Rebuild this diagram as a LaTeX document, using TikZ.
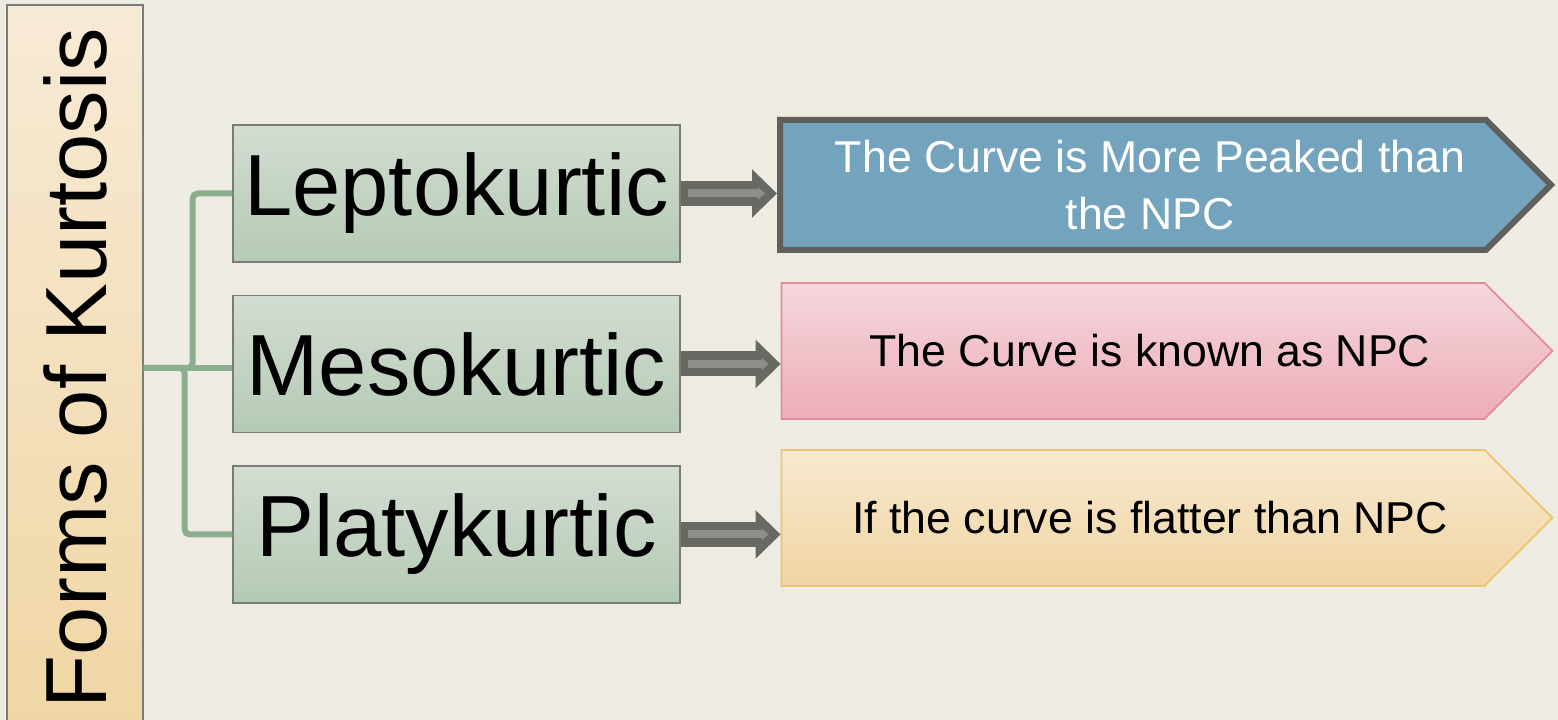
\documentclass[tikz,border=0pt]{standalone}
\usepackage{fontspec}
\setmainfont{Liberation Sans}
\usetikzlibrary{arrows.meta,positioning,shapes.symbols}

\definecolor{bgcol}{HTML}{EEEBE3}
\definecolor{roottop}{HTML}{F7EAD5}
\definecolor{rootbot}{HTML}{F0D6A4}
\definecolor{midtop}{HTML}{D3DDD3}
\definecolor{midbot}{HTML}{B4CAB4}
\definecolor{boxline}{HTML}{7A7A76}
\definecolor{branchgreen}{HTML}{8BAE8E}
\definecolor{arrowdark}{HTML}{686963}
\definecolor{arrowlite}{HTML}{8E8E88}
\definecolor{lepfill}{HTML}{74A3BE}
\definecolor{lepline}{HTML}{5F605B}
\definecolor{mestop}{HTML}{F5D7DD}
\definecolor{mesbot}{HTML}{EDADB7}
\definecolor{mesline}{HTML}{E28B9A}
\definecolor{plattop}{HTML}{F7E9D0}
\definecolor{platbot}{HTML}{F1D5A2}
\definecolor{platline}{HTML}{EBC56F}

% pushes the text of a leaf a bit to the right of its body
\newcommand{\leafpad}{\hspace*{0.34cm}}

\tikzset{
  formbox/.style={draw=boxline, line width=0.4pt, top color=midtop, bottom color=midbot,
    minimum width=4.47cm, minimum height=1.37cm, inner sep=0pt,
    font=\fontsize{24.7}{29}\selectfont},
  leaf/.style={signal, signal to=east, signal pointer angle=90,
    minimum width=7.71cm, minimum height=1.36cm, inner sep=0pt, align=center,
    font=\fontsize{12.7}{16.2}\selectfont},
  branch/.style={draw=branchgreen, line width=0.06cm, rounded corners=0.05cm},
  fatarrow/.style={draw=arrowdark, line width=0.25cm, -{Triangle[width=0.47cm,length=0.25cm]}},
  fatarrowin/.style={draw=arrowlite, line width=0.08cm, shorten <=0.07cm, shorten >=0.12cm,
    -{Triangle[width=0.12cm,length=0.07cm]}},
}

\begin{document}
\begin{tikzpicture}
  \useasboundingbox (0,0) rectangle (15.58,7.2);
  \fill[bgcol] (0,0) rectangle (15.58,7.2);
  \clip (0,0) rectangle (15.58,7.2);

  % left title bar
  \node (root) [draw=boxline, line width=0.4pt, top color=roottop, bottom color=rootbot,
    minimum width=1.36cm, minimum height=7.26cm, inner sep=0pt,
    font=\fontsize{24.7}{29}\selectfont] at (0.75,3.52) {\rotatebox{90}{Forms of Kurtosis}};

  % the three forms
  \node (lepto) [formbox] at (4.565,5.265) {Leptokurtic};
  \node (mesok) [formbox] at (4.565,3.56) {Mesokurtic};
  \node (platy) [formbox] at (4.565,1.855) {Platykurtic};

  % what they mean
  \node (lepdef) [leaf, fill=lepfill, draw=lepline, line width=0.06cm, text=white, minimum height=1.30cm]
    at (11.33,5.35) {\leafpad The Curve is More Peaked than\\\leafpad the NPC};
  \node (mesdef) [leaf, top color=mestop, bottom color=mesbot, draw=mesline, line width=0.5pt]
    at (11.33,3.69) {\leafpad The Curve is known as NPC};
  \node (platdef) [leaf, top color=plattop, bottom color=platbot, draw=platline, line width=0.5pt]
    at (11.33,2.02) {\leafpad If the curve is flatter than NPC};

  \draw[branch] (root.east) -- ++(0.49,0) |- (lepto.west);
  \draw[branch] (root.east) -- (root.east -| mesok.west);
  \draw[branch] (root.east) -- ++(0.41,0) |- (platy.west);

  \foreach \a/\b in {lepto/lepdef, mesok/mesdef, platy/platdef}{
    \draw[fatarrow] (\a.east) -- (\a.east -| \b.west);
    \draw[fatarrowin] (\a.east) -- (\a.east -| \b.west);
  }
\end{tikzpicture}
\end{document}
